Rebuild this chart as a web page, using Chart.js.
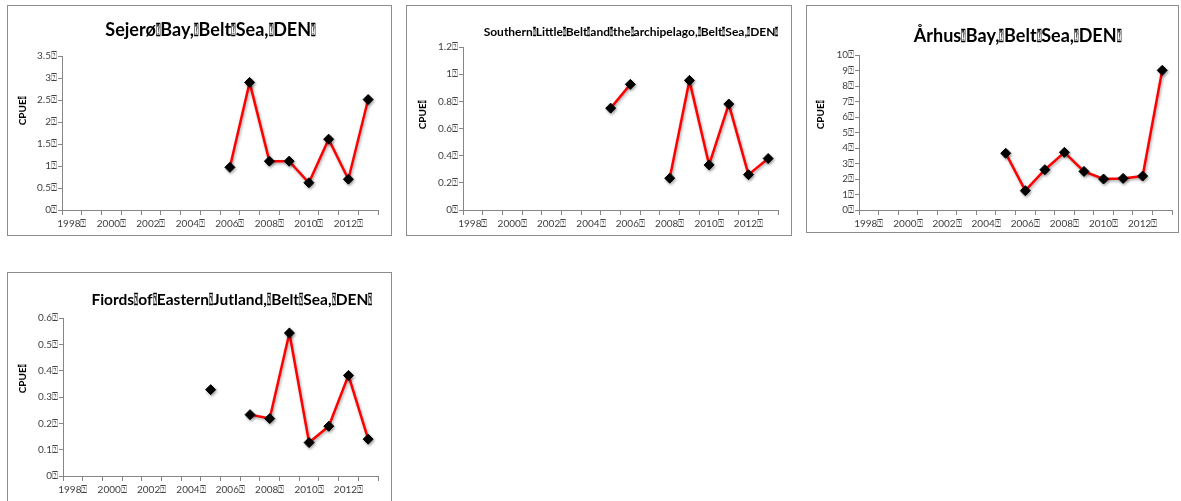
<!DOCTYPE html>
<html>
<head>
<meta charset="utf-8">
<script src="https://cdn.jsdelivr.net/npm/chart.js@4.4.1/dist/chart.umd.min.js"></script>
<style>
  html, body { margin: 0; padding: 0; background: #fff; width: 1181px; height: 501px; overflow: hidden; }
  .panel { position: absolute; box-sizing: border-box; border: 1px solid #8c8c8c; background: #fff; }
  .panel canvas { display: block; }
</style>
</head>
<body>
<div class="panel" id="p1" style="left:7px;top:5px;width:385px;height:231px"><canvas id="c1" width="383" height="229"></canvas></div>
<div class="panel" id="p2" style="left:406px;top:5px;width:386px;height:231px"><canvas id="c2" width="384" height="229"></canvas></div>
<div class="panel" id="p3" style="left:806px;top:5px;width:373px;height:228px"><canvas id="c3" width="371" height="226"></canvas></div>
<div class="panel" id="p4" style="left:7px;top:272px;width:385px;height:240px"><canvas id="c4" width="383" height="238"></canvas></div>
<script>
// Survey years shown on every x axis
const years = ['1998','1999','2000','2001','2002','2003','2004','2005','2006','2007','2008','2009','2010','2011','2012','2013'];

// CPUE per year (null = no survey that year)
const sejeroBay = [null,null,null,null,null,null,null,null,0.97,2.90,1.11,1.11,0.62,1.61,0.70,2.51];
const littleBelt = [null,null,null,null,null,null,null,0.75,0.925,null,0.234,0.954,0.332,0.78,0.26,0.379];
const aarhusBay = [null,null,null,null,null,null,null,3.66,1.25,2.60,3.72,2.49,2.00,2.04,2.19,9.01];
const jutlandFiords = [null,null,null,null,null,null,null,0.328,null,0.233,0.218,0.543,0.127,0.189,0.382,0.14];

// Panel titles and y-axis ranges
const titles = [
  'Sejerø\u2370Bay,\u2370Belt\u2370Sea,\u2370DEN\u2370',
  'Southern\u2370Little\u2370Belt\u2370and\u2370the\u2370archipelago,\u2370Belt\u2370Sea,\u2370DEN\u2370',
  'Århus\u2370Bay,\u2370Belt\u2370Sea,\u2370DEN\u2370',
  'Fiords\u2370of\u2370Eastern\u2370Jutland,\u2370Belt\u2370Sea,\u2370DEN\u2370'
];
const yMax = [3.5, 1.2, 10, 0.6];
const yStep = [0.5, 0.2, 1, 0.1];
const yTitle = 'CPUE\u2370';
const BOX = '\u2370';

const FONT = 'Lato, "Open Sans", "DejaVu Sans", sans-serif';
const AXIS = '#868686';
const BOX_SQUEEZE = 0.42;

// Writes a string centred on (cx, cy), with the box glyphs drawn narrow
function drawSqueezed(ctx, text, cx, cy) {
  const parts = text.split(BOX);
  const boxW = ctx.measureText(BOX).width * BOX_SQUEEZE;
  const widths = parts.map(p => ctx.measureText(p).width);
  const total = widths.reduce((a, b) => a + b, 0) + (parts.length - 1) * boxW;
  let x = cx - total / 2;
  ctx.textAlign = 'left';
  parts.forEach((p, i) => {
    ctx.fillText(p, x, cy);
    x += widths[i];
    if (i < parts.length - 1) {
      ctx.save();
      ctx.translate(x, cy);
      ctx.scale(BOX_SQUEEZE, 1);
      ctx.fillText(BOX, 0, 0);
      ctx.restore();
      x += boxW;
    }
  });
}

// Title and rotated y-axis caption, drawn in canvas pixels
const panelText = {
  id: 'panelText',
  afterDraw(chart, args, o) {
    const ctx = chart.ctx;
    ctx.save();
    ctx.fillStyle = '#000';
    ctx.textBaseline = 'middle';
    ctx.font = 'bold ' + o.titleSize + 'px ' + FONT;
    drawSqueezed(ctx, o.title, o.titleX, o.titleY);
    ctx.translate(o.labelX, o.labelY);
    ctx.rotate(-Math.PI / 2);
    ctx.font = 'bold 10px ' + FONT;
    drawSqueezed(ctx, yTitle, 0, 0);
    ctx.restore();
  }
};

// Soft drop shadow under the line and markers
const markShadow = {
  id: 'markShadow',
  beforeDatasetsDraw(chart) {
    const c = chart.ctx;
    c.save();
    c.shadowColor = 'rgba(0,0,0,0.35)';
    c.shadowBlur = 3;
    c.shadowOffsetX = 1;
    c.shadowOffsetY = 1.5;
  },
  afterDatasetsDraw(chart) { chart.ctx.restore(); }
};

function fmt(v) { return String(Math.round(v * 100) / 100); }

function makeChart(id, series, idx, lay) {
  new Chart(document.getElementById(id), {
    type: 'line',
    data: {
      labels: years,
      datasets: [{
        data: series,
        borderColor: '#ff0000',
        borderWidth: 2.5,
        pointStyle: 'rectRot',
        pointRadius: 5,
        pointBackgroundColor: '#000',
        pointBorderColor: '#000',
        pointBorderWidth: 1,
        spanGaps: false,
        tension: 0
      }]
    },
    options: {
      responsive: false,
      animation: false,
      events: [],
      layout: { padding: { top: lay.top, right: lay.right, bottom: 0, left: 0 } },
      plugins: {
        legend: { display: false },
        tooltip: { enabled: false },
        panelText: {
          title: titles[idx], titleSize: lay.titleSize, titleX: lay.titleX, titleY: lay.titleY,
          labelX: lay.labelX, labelY: lay.labelY
        }
      },
      scales: {
        x: {
          type: 'category',
          offset: true,
          grid: { display: true, drawOnChartArea: false, drawTicks: true, tickLength: 5, offset: true, color: AXIS },
          border: { display: true, color: AXIS, width: 1 },
          ticks: {
            autoSkip: false, maxRotation: 0, minRotation: 0, padding: 3,
            color: '#404040', font: { family: FONT, size: 10 },
            callback: (v, i) => (i % 2 === 0 ? years[i] + BOX : '')
          },
          afterFit: s => { s.height = lay.xh; }
        },
        y: {
          min: 0, max: yMax[idx],
          grid: { display: true, drawOnChartArea: false, drawTicks: true, tickLength: 4, color: AXIS },
          border: { display: true, color: AXIS, width: 1 },
          ticks: {
            stepSize: yStep[idx], padding: 1,
            color: '#404040', font: { family: FONT, size: 10 },
            callback: v => fmt(v) + BOX
          },
          afterFit: s => { s.width = lay.yw; }
        }
      }
    },
    plugins: [panelText, markShadow]
  });
}

makeChart('c1', sejeroBay, 0, { top: 50, right: 13, xh: 25, yw: 54, titleSize: 18, titleX: 202.5, titleY: 24, labelX: 15, labelY: 105 });
makeChart('c2', littleBelt, 1, { top: 41, right: 13, xh: 25, yw: 56, titleSize: 12, titleX: 224, titleY: 26, labelX: 16, labelY: 109 });
makeChart('c3', aarhusBay, 2, { top: 49, right: 2, xh: 22, yw: 52, titleSize: 18, titleX: 210.5, titleY: 30, labelX: 14, labelY: 109 });
makeChart('c4', jutlandFiords, 3, { top: 45, right: 13, xh: 35, yw: 55, titleSize: 15.5, titleX: 224, titleY: 27, labelX: 15, labelY: 106 });
</script>
</body>
</html>
